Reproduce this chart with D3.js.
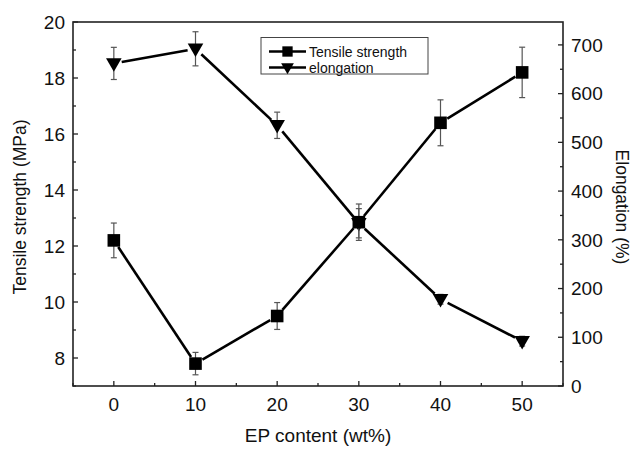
<!DOCTYPE html>
<html>
<head>
<script src="https://cdn.jsdelivr.net/npm/d3@7"></script>
<style>
  body { margin: 0; background: #fff; }
  text { font-family: "Liberation Sans", Arial, sans-serif; fill: #111; }
</style>
</head>
<body>
<svg width="634" height="449" id="mainsvg"></svg>
<script>
  // data
  const content = [0, 10, 20, 30, 40, 50];
  const tensile = [12.2, 7.8, 9.5, 12.85, 16.4, 18.2];
  const tensileErr = [0.62, 0.4, 0.48, 0.65, 0.82, 0.9];
  const elongation = [662, 692, 535, 334, 178, 92];
  const elongationErr = [33, 35, 27, 30, 10, 10];
  const xTicks = [0, 10, 20, 30, 40, 50];
  const leftTicks = [8, 10, 12, 14, 16, 18, 20];
  const rightTicks = [0, 100, 200, 300, 400, 500, 600, 700];

  const svg = d3.select('svg');
  const margin = {left: 73, top: 22, right: 634 - 563, bottom: 449 - 386};
  const W = 634 - margin.left - margin.right;
  const H = 449 - margin.top - margin.bottom;
  const g = svg.append('g').attr('transform', `translate(${margin.left},${margin.top})`);

  const x = d3.scaleLinear().domain([-5, 55]).range([0, W]);
  const yL = d3.scaleLinear().domain([7, 20]).range([H, 0]);
  const yR = d3.scaleLinear().domain([0, 747]).range([H, 0]);

  // frame
  g.append('rect').attr('width', W).attr('height', H)
    .attr('fill', 'none').attr('stroke', '#222').attr('stroke-width', 1.6);

  // ticks (inward)
  const major = 5, minor = 3;
  const tk = g.append('g').attr('stroke', '#222').attr('stroke-width', 1.3);
  d3.range(-5, 56, 5).forEach(v => {
    const len = v % 10 === 0 ? major : minor;
    tk.append('line').attr('x1', x(v)).attr('x2', x(v)).attr('y1', H).attr('y2', H - len);
  });
  d3.range(7, 20.1, 1).forEach(v => {
    const len = v % 2 === 0 ? major : minor;
    tk.append('line').attr('x1', 0).attr('x2', len).attr('y1', yL(v)).attr('y2', yL(v));
  });
  d3.range(0, 747, 50).forEach(v => {
    const len = v % 100 === 0 ? major : minor;
    tk.append('line').attr('x1', W).attr('x2', W - len).attr('y1', yR(v)).attr('y2', yR(v));
  });

  // tick labels
  const fsTick = 19;
  g.selectAll('.xt').data(xTicks).join('text')
    .attr('x', d => x(d)).attr('y', H + 25)
    .attr('text-anchor', 'middle').attr('font-size', fsTick).text(d => d);
  g.selectAll('.yl').data(leftTicks).join('text')
    .attr('x', -8).attr('y', d => yL(d) + 6.8)
    .attr('text-anchor', 'end').attr('font-size', fsTick).text(d => d);
  g.selectAll('.yr').data(rightTicks).join('text')
    .attr('x', W + 8).attr('y', d => yR(d) + 6.8)
    .attr('text-anchor', 'start').attr('font-size', fsTick).text(d => d);

  // axis titles
  svg.append('text').attr('x', margin.left + W / 2).attr('y', 442)
    .attr('text-anchor', 'middle').attr('font-size', 19).text('EP content (wt%)');
  svg.append('text').attr('transform', `translate(26,${margin.top + H / 2 + 3}) rotate(-90)`)
    .attr('text-anchor', 'middle').attr('font-size', 17.5).text('Tensile strength (MPa)');
  svg.append('text').attr('transform', `translate(616,${margin.top + H / 2 + 3}) rotate(90)`)
    .attr('text-anchor', 'middle').attr('font-size', 17.5).text('Elongation (%)');

  // series helpers
  const gap = 8;
  function drawSeries(vals, errs, y, marker) {
    const pts = content.map((c, i) => [x(c), y(vals[i])]);
    // error bars
    const eb = g.append('g').attr('stroke', '#555').attr('stroke-width', 1.2);
    content.forEach((c, i) => {
      const cx = x(c), t = y(vals[i] + errs[i]), b = y(vals[i] - errs[i]);
      eb.append('line').attr('x1', cx).attr('x2', cx).attr('y1', t).attr('y2', b);
      eb.append('line').attr('x1', cx - 3).attr('x2', cx + 3).attr('y1', t).attr('y2', t);
      eb.append('line').attr('x1', cx - 3).attr('x2', cx + 3).attr('y1', b).attr('y2', b);
    });
    // connecting segments with small gaps at markers
    for (let i = 0; i < pts.length - 1; i++) {
      const [x1, y1] = pts[i], [x2, y2] = pts[i + 1];
      const d = Math.hypot(x2 - x1, y2 - y1);
      const ux = (x2 - x1) / d, uy = (y2 - y1) / d;
      g.append('line')
        .attr('x1', x1 + ux * gap).attr('y1', y1 + uy * gap)
        .attr('x2', x2 - ux * gap).attr('y2', y2 - uy * gap)
        .attr('stroke', '#000').attr('stroke-width', 2.6);
    }
    g.selectAll(null).data(pts).join('path')
      .attr('transform', d => `translate(${d[0]},${d[1]})`)
      .attr('d', marker).attr('fill', '#000');
  }

  const square = 'M-6.3,-6.3H6.3V6.3H-6.3Z';
  const triDown = 'M-7.8,-5.2H7.8L0,8.3Z';

  drawSeries(elongation, elongationErr, yR, triDown);
  drawSeries(tensile, tensileErr, yL, square);

  // legend
  const lg = svg.append('g');
  lg.append('rect').attr('x', 261).attr('y', 37.5).attr('width', 167).attr('height', 36.5)
    .attr('fill', '#fff').attr('stroke', '#444').attr('stroke-width', 1);
  [['Tensile strength', square, 51.5], ['elongation', triDown, 67.5]].forEach(([lab, m, yy]) => {
    lg.append('line').attr('x1', 269).attr('x2', 306).attr('y1', yy).attr('y2', yy)
      .attr('stroke', '#000').attr('stroke-width', 2.4);
    lg.append('path').attr('transform', `translate(287.5,${yy}) scale(0.82)`).attr('d', m).attr('fill', '#000');
    lg.append('text').attr('x', 309).attr('y', yy + 5).attr('font-size', 14).text(lab);
  });
</script>
</body>
</html>
